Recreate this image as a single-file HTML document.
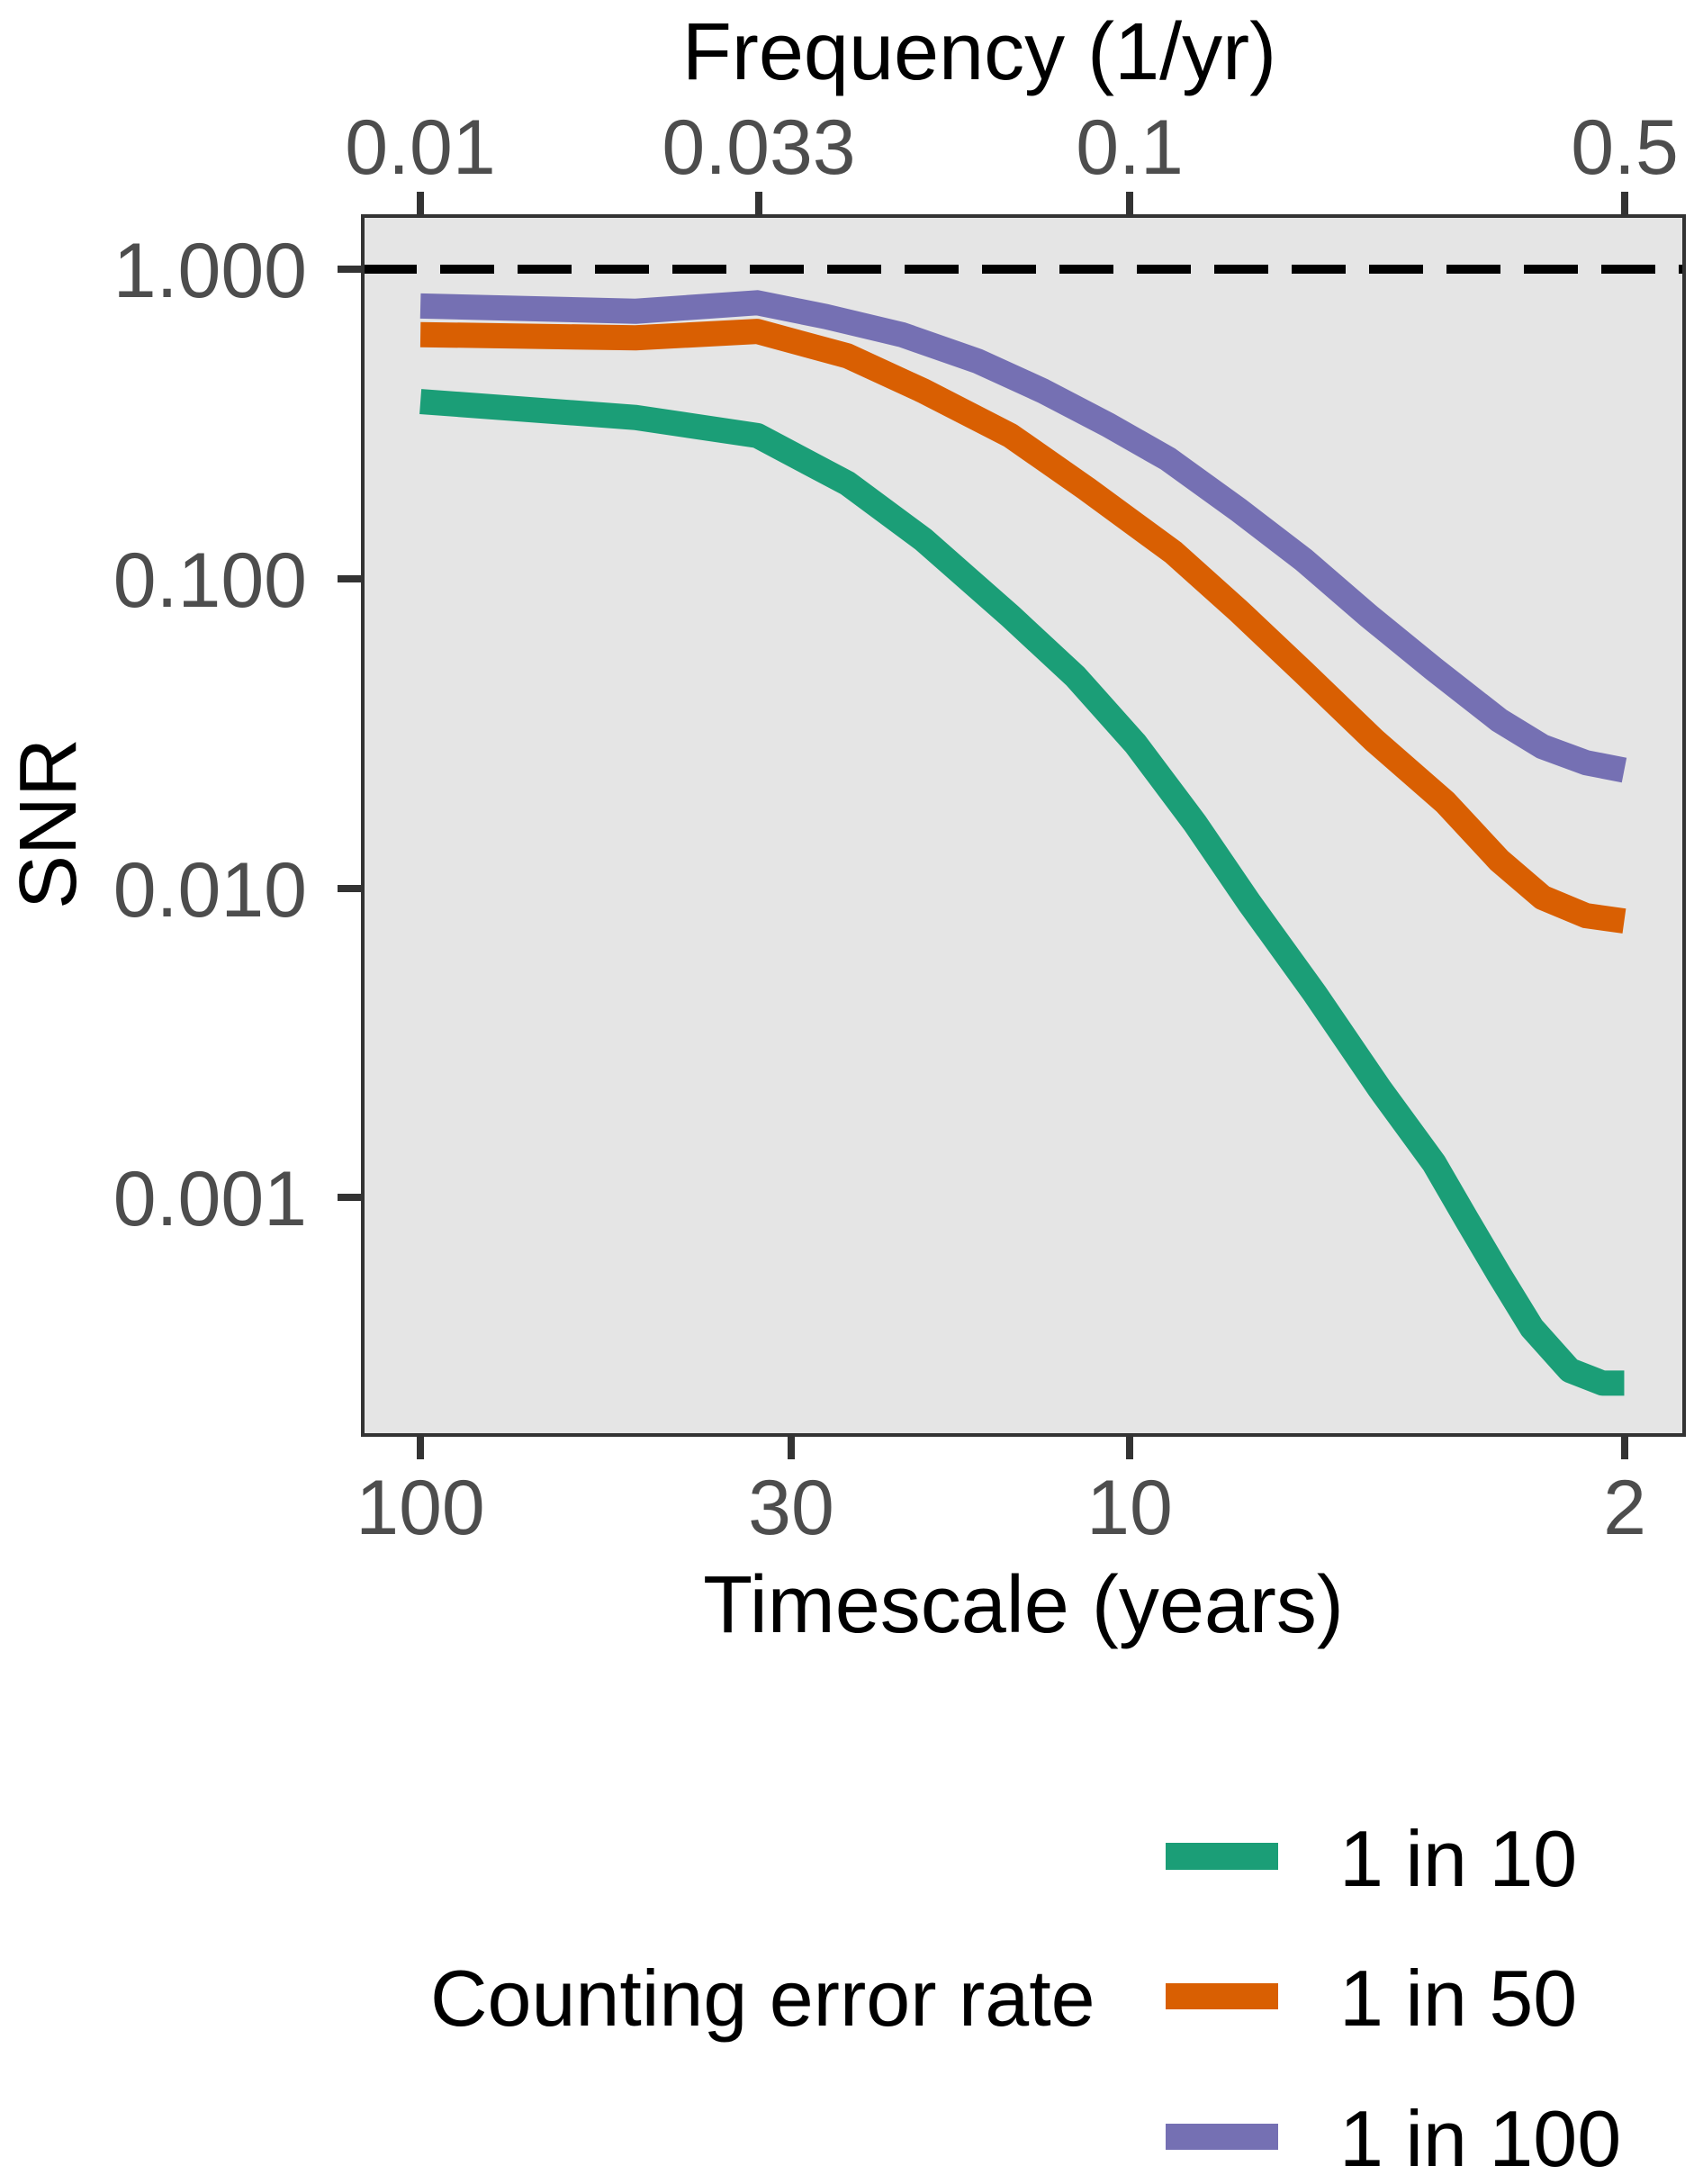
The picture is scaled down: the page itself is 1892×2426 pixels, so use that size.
<!DOCTYPE html>
<html><head><meta charset="utf-8"><style>
html,body{margin:0;padding:0;background:#fff}
svg{display:block}
text{font-family:"Liberation Sans",Arial,sans-serif}
.tk{fill:#4D4D4D;font-size:86px}
.tt{fill:#000;font-size:90px}
.lg{fill:#000;font-size:88px}
</style></head><body>
<svg width="1892" height="2426" viewBox="0 0 1892 2426" xmlns="http://www.w3.org/2000/svg">
<rect width="1892" height="2426" fill="#fff"/>
<rect x="403" y="240" width="1468" height="1354" fill="#E5E5E5"/>
<line x1="403" y1="299" x2="1871" y2="299" stroke="#000" stroke-width="10" stroke-dasharray="60,26"/>
<g fill="none" stroke-width="28" stroke-linejoin="round" transform="scale(1.207,1.18)">
<polyline vector-effect="non-scaling-stroke" stroke="#7570B3" points="387,288 585,293 697,285 760,298 830,315 900,340 960,368 1020,400 1075,432 1140,480 1200,527 1260,580 1320,630 1380,678 1420,703 1460,718 1495,725"/>
<polyline vector-effect="non-scaling-stroke" stroke="#D95F02" points="387,315 585,318 697,312 780,335 850,368 930,410 1000,460 1080,520 1140,575 1200,633 1265,697 1330,755 1380,810 1420,845 1460,862 1495,867"/>
<polyline vector-effect="non-scaling-stroke" stroke="#1B9E77" points="387,378 585,393 697,410 780,455 850,508 930,580 990,637 1045,700 1100,775 1150,850 1210,935 1270,1025 1320,1095 1350,1148 1380,1200 1410,1250 1445,1290 1475,1302 1495,1302"/>
</g>
<rect x="403" y="240" width="1468" height="1354" fill="none" stroke="#333" stroke-width="4"/>
<g stroke="#333" stroke-width="8">
<line x1="375" y1="299" x2="403" y2="299"/><line x1="375" y1="643" x2="403" y2="643"/>
<line x1="375" y1="987" x2="403" y2="987"/><line x1="375" y1="1330" x2="403" y2="1330"/>
<line x1="467" y1="1594" x2="467" y2="1621"/><line x1="879" y1="1594" x2="879" y2="1621"/>
<line x1="1255" y1="1594" x2="1255" y2="1621"/><line x1="1805" y1="1594" x2="1805" y2="1621"/>
<line x1="467" y1="213" x2="467" y2="240"/><line x1="843" y1="213" x2="843" y2="240"/>
<line x1="1255" y1="213" x2="1255" y2="240"/><line x1="1805" y1="213" x2="1805" y2="240"/>
</g>
<g class="tk" text-anchor="end">
<text x="341" y="330">1.000</text><text x="341" y="674">0.100</text>
<text x="341" y="1018">0.010</text><text x="341" y="1361">0.001</text>
</g>
<g class="tk" text-anchor="middle">
<text x="467" y="1704">100</text><text x="879" y="1704">30</text>
<text x="1255" y="1704">10</text><text x="1805" y="1704">2</text>
<text x="467" y="193">0.01</text><text x="843" y="193">0.033</text>
<text x="1255" y="193">0.1</text><text x="1805" y="193">0.5</text>
</g>
<text class="tt" x="1088" y="88" text-anchor="middle">Frequency (1/yr)</text>
<text class="tt" x="1137" y="1813" text-anchor="middle">Timescale (years)</text>
<text class="tt" transform="translate(84,915) rotate(-90)" text-anchor="middle">SNR</text>
<rect x="1295" y="2047" width="125" height="30" fill="#1B9E77"/>
<rect x="1295" y="2203" width="125" height="29" fill="#D95F02"/>
<rect x="1295" y="2359" width="125" height="29" fill="#7570B3"/>
<g class="lg">
<text x="1488" y="2095">1 in 10</text>
<text x="1488" y="2250">1 in 50</text>
<text x="1488" y="2406">1 in 100</text>
<text x="478" y="2250">Counting error rate</text>
</g>
</svg>
</body></html>
